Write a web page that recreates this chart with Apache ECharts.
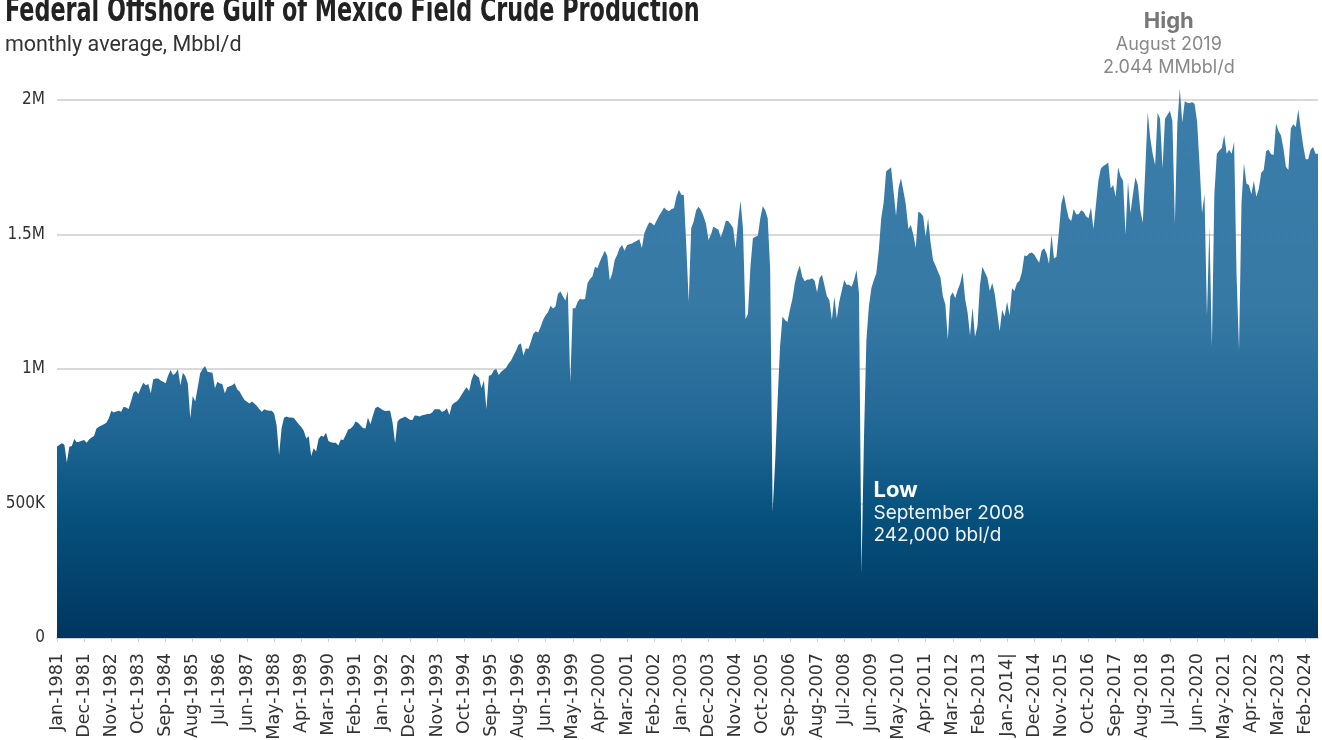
<!DOCTYPE html>
<html>
<head>
<meta charset="utf-8">
<script src="https://cdn.jsdelivr.net/npm/echarts@6/dist/echarts.min.js"></script>
<style>
  html, body { margin: 0; padding: 0; background: #fff; }
  #chart { width: 1322px; height: 740px; }
</style>
</head>
<body>
<div id="chart"></div>
<script>
// monthly average production, thousand bbl/d
const production = [
  711, 718, 724, 718, 652, 711, 714, 740, 728, 730, 733, 736, 726, 738, 745, 751, 779, 785, 790, 795,
  800, 817, 845, 838, 842, 845, 841, 860, 857, 851, 880, 912, 918, 907, 930, 949, 940, 944, 910, 962,
  965, 965, 957, 953, 947, 975, 996, 978, 984, 999, 940, 986, 974, 947, 817, 900, 879, 930, 984, 1000,
  1011, 990, 988, 986, 928, 953, 946, 944, 910, 932, 936, 940, 947, 925, 916, 900, 885, 878, 872, 879,
  872, 862, 850, 841, 850, 847, 845, 845, 835, 790, 680, 780, 819, 823, 820, 820, 818, 806, 795, 784,
  770, 742, 750, 677, 705, 693, 740, 752, 748, 763, 732, 728, 726, 726, 716, 738, 736, 755, 775, 779,
  788, 805, 800, 790, 781, 779, 820, 795, 826, 855, 860, 854, 848, 844, 845, 845, 800, 724, 805, 815,
  818, 823, 818, 811, 810, 827, 826, 823, 828, 830, 833, 833, 838, 850, 850, 850, 840, 845, 854, 829,
  865, 875, 879, 890, 905, 920, 932, 918, 960, 984, 975, 968, 928, 958, 850, 975, 978, 995, 1000, 978,
  990, 997, 1005, 1020, 1032, 1050, 1068, 1090, 1095, 1050, 1077, 1074, 1100, 1130, 1140, 1136, 1157, 1183, 1200, 1212,
  1235, 1225, 1232, 1280, 1288, 1270, 1255, 1290, 950, 1226, 1226, 1250, 1261, 1258, 1260, 1320, 1335, 1345, 1380, 1375,
  1400, 1420, 1440, 1420, 1330, 1356, 1405, 1425, 1450, 1461, 1440, 1461, 1464, 1467, 1472, 1477, 1482, 1450, 1505, 1527,
  1546, 1542, 1533, 1552, 1570, 1585, 1600, 1591, 1586, 1595, 1598, 1640, 1666, 1648, 1647, 1460, 1250, 1523, 1548, 1590,
  1603, 1590, 1568, 1540, 1480, 1500, 1530, 1523, 1519, 1490, 1517, 1550, 1550, 1538, 1524, 1450, 1550, 1625, 1520, 1185,
  1205, 1380, 1486, 1492, 1495, 1560, 1605, 1590, 1560, 1370, 470, 650, 880, 1083, 1195, 1182, 1175, 1220, 1260, 1320,
  1360, 1385, 1343, 1326, 1333, 1333, 1337, 1328, 1285, 1337, 1350, 1310, 1270, 1256, 1182, 1269, 1188, 1250, 1291, 1331,
  1313, 1313, 1306, 1331, 1368, 1280, 242, 740, 1109, 1232, 1300, 1330, 1356, 1440, 1560, 1620, 1735, 1742, 1750, 1660,
  1570, 1672, 1709, 1662, 1610, 1520, 1535, 1500, 1450, 1585, 1580, 1568, 1492, 1560, 1470, 1405, 1385, 1362, 1340, 1270,
  1240, 1110, 1270, 1285, 1263, 1295, 1318, 1360, 1260, 1210, 1125, 1230, 1120, 1160, 1310, 1380, 1360, 1340, 1290, 1320,
  1280, 1210, 1140, 1220, 1195, 1250, 1200, 1300, 1290, 1320, 1328, 1360, 1422, 1420, 1430, 1433, 1426, 1410, 1395, 1440,
  1449, 1430, 1390, 1500, 1411, 1417, 1510, 1615, 1650, 1600, 1560, 1550, 1595, 1575, 1575, 1590, 1585, 1568, 1560, 1600,
  1520, 1610, 1700, 1745, 1755, 1760, 1768, 1672, 1684, 1640, 1750, 1717, 1700, 1500, 1696, 1580, 1650, 1713, 1685, 1590,
  1544, 1740, 1955, 1860, 1800, 1758, 1953, 1930, 1746, 1930, 1945, 1960, 1922, 1540, 1913, 2044, 1916, 1995, 1990, 1988,
  1993, 1985, 1920, 1760, 1580, 1650, 1200, 1530, 1083, 1650, 1800, 1812, 1822, 1870, 1800, 1815, 1800, 1845, 1350, 1071,
  1620, 1765, 1690, 1684, 1650, 1700, 1640, 1670, 1730, 1740, 1810, 1815, 1798, 1796, 1913, 1885, 1868, 1820, 1752, 1740,
  1895, 1910, 1900, 1965, 1895, 1830, 1780, 1780, 1815, 1825, 1800, 1800
];

// x tick labels, one every 11 months, as printed
const tickLabels = [
  'Jan-1981', 'Dec-1981', 'Nov-1982', 'Oct-1983', 'Sep-1984', 'Aug-1985', 'Jul-1986', 'Jun-1987',
  'May-1988', 'Apr-1989', 'Mar-1990', 'Feb-1991', 'Jan-1992', 'Dec-1992', 'Nov-1993', 'Oct-1994',
  'Sep-1995', 'Aug-1996', 'Jun-1998', 'May-1999', 'Apr-2000', 'Mar-2001', 'Feb-2002', 'Jan-2003',
  'Dec-2003', 'Nov-2004', 'Oct-2005', 'Sep-2006', 'Aug-2007', 'Jul-2008', 'Jun-2009', 'May-2010',
  'Apr-2011', 'Mar-2012', 'Feb-2013', 'Jan-2014|', 'Dec-2014', 'Nov-2015', 'Oct-2016', 'Sep-2017',
  'Aug-2018', 'Jul-2019', 'Jun-2020', 'May-2021', 'Apr-2022', 'Mar-2023', 'Feb-2024'
];

const yTickLabels = { 0: '0', 500: '500K', 1000: '1M', 1500: '1.5M', 2000: '2M' };

const monthNames = ['Jan', 'Feb', 'Mar', 'Apr', 'May', 'Jun', 'Jul', 'Aug', 'Sep', 'Oct', 'Nov', 'Dec'];

// month categories (source skips 11 months between Aug-1996 and Jun-1998)
const categories = production.map((_, i) => {
  const m = i <= 192 ? i : i + 11;
  return monthNames[m % 12] + '-' + (1981 + Math.floor(m / 12));
});

const hiIdx = production.indexOf(Math.max(...production));
const loIdx = production.indexOf(Math.min(...production));

const highNote = ['High', 'August 2019', '2.044 MMbbl/d'];
const lowNote = ['Low', 'September 2008', '242,000 bbl/d'];

const chart = echarts.init(document.getElementById('chart'));

const annoFont = 'Inter, "Noto Sans", sans-serif';

const option = {
  backgroundColor: '#fff',
  animation: false,
  grid: { left: 57, right: 4, top: 100, bottom: 102, outerBoundsMode: 'none' },
  xAxis: {
    type: 'category',
    data: categories,
    boundaryGap: false,
    axisLine: { lineStyle: { color: '#d0d0d0', width: 2 } },
    axisTick: { show: true, interval: 10, length: 4, lineStyle: { color: '#d0d0d0' } },
    axisLabel: {
      interval: 10,
      rotate: 90,
      margin: 15,
      color: '#333',
      fontSize: 17.5,
      fontFamily: '"DejaVu Sans", sans-serif',
      formatter: (v, idx) => tickLabels[idx / 11] || ''
    },
    splitLine: { show: false }
  },
  yAxis: {
    type: 'value',
    min: 0,
    max: 2000,
    interval: 500,
    axisLine: { show: false },
    axisTick: { show: false },
    axisLabel: {
      margin: 12,
      color: '#333',
      fontSize: 17,
      padding: [4, 0, 0, 0],
      fontFamily: '"DejaVu Sans Condensed", "Liberation Sans Narrow", sans-serif',
      formatter: v => yTickLabels[v]
    },
    splitLine: { lineStyle: { color: '#d9d9d9', width: 2 } }
  },
  series: [
    {
      type: 'line',
      data: production,
      symbol: 'none',
      clip: false,
      sampling: 'none',
      lineStyle: { width: 0 },
      areaStyle: {
        opacity: 1,
        color: new echarts.graphic.LinearGradient(0, 0, 0, 1, [
          { offset: 0, color: '#3b7eab' },
          { offset: 0.4, color: '#3679a5' },
          { offset: 0.62, color: '#216795' },
          { offset: 0.77, color: '#07527f' },
          { offset: 1, color: '#00365f' }
        ])
      }
    }
  ]
};

chart.setOption(option);

// title, subtitle and the high / low notes, placed next to their points
const hiPt = chart.convertToPixel({ seriesIndex: 0 }, [hiIdx, production[hiIdx]]);
const loPt = chart.convertToPixel({ seriesIndex: 0 }, [loIdx, production[loIdx]]);

const noteText = (x, y, text, font, fill, align) => ({
  type: 'text',
  x: x,
  y: y,
  z: 100,
  silent: true,
  style: { text: text, font: font, fill: fill, align: align, verticalAlign: 'middle' }
});

chart.setOption({
  graphic: [
    {
      type: 'text',
      x: 5,
      y: 29,
      z: 100,
      scaleX: 0.73,
      style: {
        text: 'Federal Offshore Gulf of Mexico Field Crude Production',
        font: 'bold 34px "DejaVu Sans Condensed", "Liberation Sans Narrow", sans-serif',
        fill: '#222',
        verticalAlign: 'bottom'
      }
    },
    {
      type: 'text',
      x: 5,
      y: 46,
      z: 100,
      style: {
        text: 'monthly average, Mbbl/d',
        font: '21.5px Roboto, sans-serif',
        fill: '#333',
        verticalAlign: 'middle'
      }
    },
    noteText(hiPt[0] - 11, hiPt[1] - 67, highNote[0], 'bold 22px ' + annoFont, '#777', 'center'),
    noteText(hiPt[0] - 11, hiPt[1] - 44, highNote[1], '18px ' + annoFont, '#888', 'center'),
    noteText(hiPt[0] - 11, hiPt[1] - 21, highNote[2], '18px ' + annoFont, '#888', 'center'),
    noteText(loPt[0] + 12, loPt[1] - 83, lowNote[0], 'bold 22px ' + annoFont, '#fff', 'left'),
    noteText(loPt[0] + 12, loPt[1] - 60, lowNote[1], '19px ' + annoFont, '#f2f2f2', 'left'),
    noteText(loPt[0] + 12, loPt[1] - 38, lowNote[2], '19px ' + annoFont, '#f2f2f2', 'left')
  ]
});
</script>
</body>
</html>
